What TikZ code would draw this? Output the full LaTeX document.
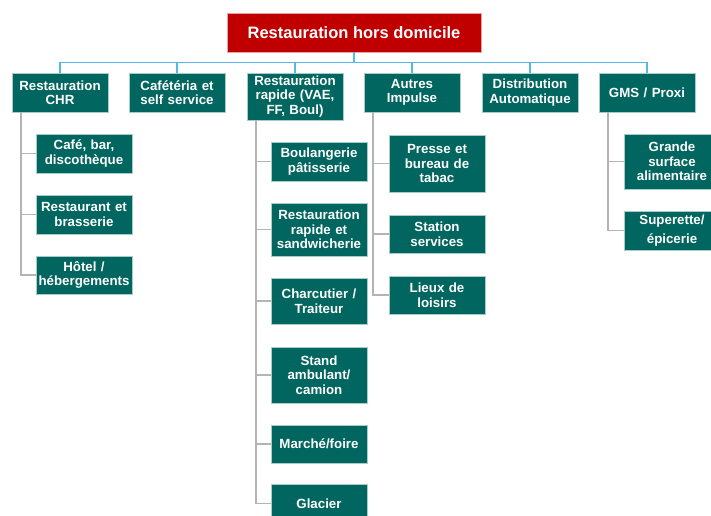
\documentclass[tikz,border=0pt]{standalone}
\usepackage{fontspec}
\setmainfont{Liberation Sans}
\definecolor{teal1}{HTML}{00665F}
\definecolor{tealb}{HTML}{A9CCC8}
\definecolor{red1}{HTML}{C00000}
\definecolor{redb}{HTML}{E9A3A3}
\definecolor{blue1}{HTML}{55B8E6}
\definecolor{gray1}{HTML}{B4B4B4}
\begin{document}
\begin{tikzpicture}[x=1pt,y=-1pt,
  box/.style={draw=tealb, line width=0.8pt, fill=teal1, text=white, font=\fontsize{13.3}{14.5}\selectfont\bfseries, align=center, minimum width=96pt, inner sep=1pt, text width=94pt},
  topbox/.style={draw=redb, line width=0.8pt, fill=red1, text=white, font=\fontsize{16.5}{18}\selectfont\bfseries, align=center, minimum width=254pt, minimum height=39pt, inner sep=1pt},
  bl/.style={draw=blue1, line width=1.6pt},
  gl/.style={draw=gray1, line width=1.8pt}]
\useasboundingbox (0,0) rectangle (711,515);
\clip (0,0) rectangle (711,515);
% top
\node[topbox] (top) at (354,32.5) {Restauration hors domicile};
% level 1
\node[box, minimum height=39pt] (chr) at (60,92.5) {Restauration\\CHR};
\node[box, minimum height=39pt] (caf) at (177,92.5) {Cafétéria et\\self service};
\node[box, minimum height=47pt] (rap) at (295,96.5) {Restauration\\rapide (VAE,\\FF, Boul)};
\node[box, minimum height=39pt] (aut) at (412,92.5) {Autres\\Impulse};
\node[box, minimum height=39pt] (dis) at (530,92.5) {Distribution\\Automatique};
\node[box, minimum height=39pt] (gms) at (647,92.5) {GMS / Proxi};
% level 2 CHR
\node[box, minimum height=39pt] (cafe) at (84,153.5) {Café, bar,\\discothèque};
\node[box, minimum height=39pt] (rest) at (84,214.5) {Restaurant et\\brasserie};
\node[box, minimum height=38pt] (hot) at (84,275) {Hôtel /\\hébergements};
% rapide
\node[box, minimum height=39pt] (boul) at (319,161.5) {Boulangerie\\pâtisserie};
\node[box, minimum height=53pt] (rrs) at (319,229.5) {Restauration\\rapide et\\sandwicherie};
\node[box, minimum height=46pt] (char) at (319,301) {Charcutier /\\Traiteur};
\node[box, minimum height=56pt] (stand) at (319,375) {Stand\\ambulant/\\camion};
\node[box, minimum height=38pt] (march) at (319,444) {Marché/foire};
\node[box, minimum height=39pt] (glac) at (319,503.5) {\raisebox{-2pt}{Glacier}};
% autres
\node[box, minimum height=57pt] (pres) at (437,163.5) {Presse et\\bureau de\\tabac};
\node[box, minimum height=38pt] (stat) at (437,234) {Station\\services};
\node[box, minimum height=38pt] (lieu) at (437,295) {Lieux de\\loisirs};
% gms
\node[box, minimum height=55pt] (gsa) at (672,161.5) {Grande\\surface\\alimentaire};
\node[box, minimum height=39pt, font=\fontsize{13.3}{19}\selectfont\bfseries] (sup) at (672,230.5) {\raisebox{-2pt}{Superette/}\\\raisebox{-2pt}{épicerie}};
% connectors
\draw[bl] (top.south) -- ++(0,10) coordinate (bus);
\foreach \n in {chr,caf,rap,aut,dis,gms}{
  \draw[bl] (bus) -| (\n.north);
}
\foreach \n in {cafe,rest,hot}{
  \draw[gl] ([xshift=9pt]chr.south west) |- (\n.west);
}
\foreach \n in {boul,rrs,char,stand,march,glac}{
  \draw[gl] ([xshift=9pt]rap.south west) |- (\n.west);
}
\foreach \n in {pres,stat,lieu}{
  \draw[gl] ([xshift=9pt]aut.south west) |- (\n.west);
}
\foreach \n in {gsa,sup}{
  \draw[gl] ([xshift=9pt]gms.south west) |- (\n.west);
}
\end{tikzpicture}
\end{document}
